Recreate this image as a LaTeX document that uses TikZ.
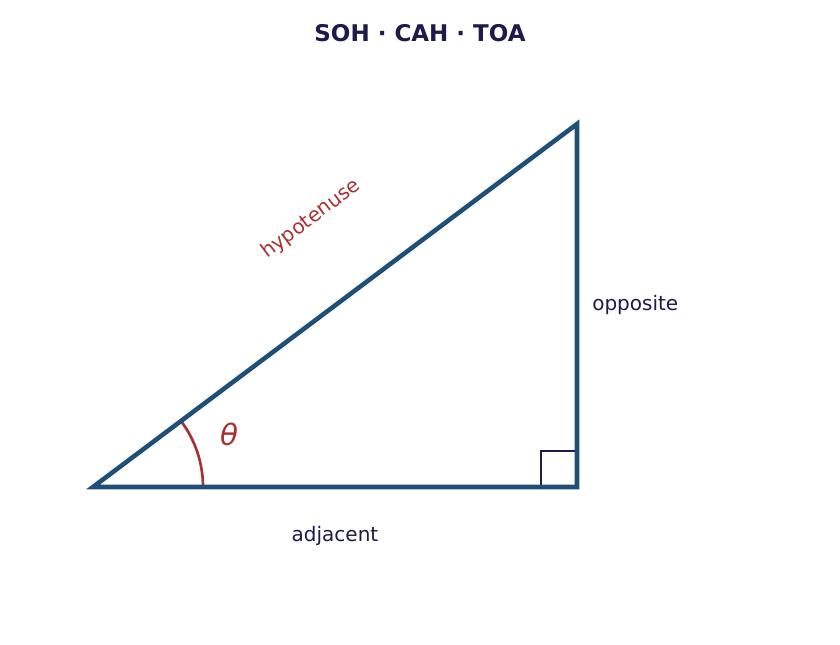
\documentclass[tikz,border=0pt]{standalone}
\usepackage{fontspec}
\setmainfont{DejaVu Sans}
\definecolor{triblue}{HTML}{1F4E79}
\definecolor{angred}{HTML}{A83232}
\definecolor{navy}{HTML}{1E1A4A}
\begin{document}
\begin{tikzpicture}[x=0.75pt,y=-0.75pt,
  side/.style={draw=triblue,line width=3.4pt,line join=miter},
  lbl/.style={text=navy,font=\fontsize{15}{18}\selectfont,inner sep=0pt},
  redlbl/.style={text=angred,font=\fontsize{15}{18}\selectfont,inner sep=0pt}]
\useasboundingbox[fill=white] (0,0) rectangle (840,644);
\coordinate (A) at (93,487);
\coordinate (B) at (577,487);
\coordinate (C) at (577,124);
\node[font=\bfseries\fontsize{17.25}{20}\selectfont,text=navy,inner sep=0pt] (title) at (420,33) {SOH · CAH · TOA};
\draw[navy,line width=1.6pt] (541,487) -- (541,451) -- (577,451);
\draw[angred,line width=2pt] ([shift={(0:110)}]A) arc[start angle=0,end angle=-36.87,radius=110];
\draw[side] (A) -- (B) -- (C) -- cycle;
\node[lbl] (adj) at (335,536) {adjacent};
\node[lbl,anchor=west] (opp) at (592,305) {opposite};
\node[redlbl,rotate=36.87] (hyp) at (311,219) {hypotenuse};
\node[text=angred,font=\itshape\fontsize{22}{26}\selectfont,inner sep=0pt] (theta) at (229,434) {θ};
\end{tikzpicture}
\end{document}
